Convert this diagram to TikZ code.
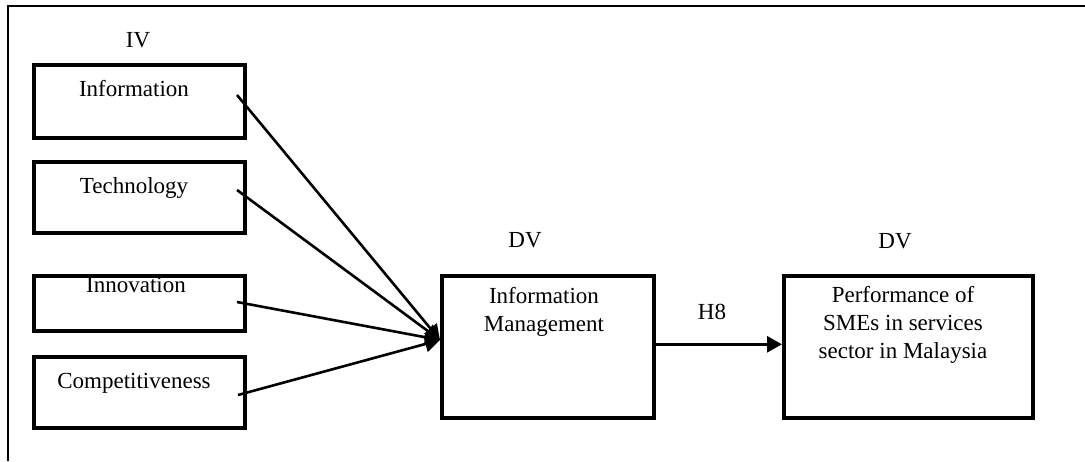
\documentclass[tikz,border=0pt]{standalone}
\usepackage{fontspec}
\setmainfont{Liberation Serif}
\usetikzlibrary{arrows.meta,calc}
\tikzset{
  box/.style={draw, line width=3.6pt, anchor=north west, inner sep=0pt},
  lbl/.style={anchor=base, inner sep=0pt, font=\fontsize{23}{27.7}\selectfont, align=center},
  conn/.style={line width=2.6pt, -{Triangle[length=15pt,width=16pt]}},
  frame/.style={line width=2.8pt}
}
\begin{document}
\begin{tikzpicture}[x=1pt,y=-1pt]
\useasboundingbox (0,0) rectangle (1085,461);
\draw[frame] (1085,6) -- (8,6) -- (8,461);
% boxes
\node[box, minimum width=211pt, minimum height=73pt] (info) at (32,63) {};
\node[box, minimum width=211pt, minimum height=71pt] (tech) at (32,160) {};
\node[box, minimum width=211pt, minimum height=55pt] (inno) at (32,274) {};
\node[box, minimum width=211pt, minimum height=71pt] (comp) at (32,355) {};
\node[box, minimum width=212pt, minimum height=142pt] (im) at (440,274) {};
\node[box, minimum width=249pt, minimum height=142pt] (perf) at (782,274) {};
% labels
\node[lbl] (iv) at (138,47) {IV};
\node[lbl] (infot) at (134,96) {Information};
\node[lbl] (techt) at (134,193) {Technology};
\node[lbl] (innot) at (136,292) {Innovation};
\node[lbl] (compt) at (134,388) {Competitiveness};
\node[lbl] (dv1) at (525,247) {DV};
\node[lbl] (dv2) at (895,248) {DV};
\node[lbl] (imt) at (544,331) {Information\\Management};
\node[lbl] (perft) at (903,358) {Performance of\\SMEs in services\\sector in Malaysia};
\node[lbl] (h8) at (712,319) {H8};
% connector start/end points
\coordinate (s1) at (237,95);
\coordinate (s2) at (237,190);
\coordinate (s3) at (237,302);
\coordinate (s4) at (238,395);
\coordinate (t) at (440,340);
\draw[conn] (s1) -- (t);
\draw[conn] (s2) -- (t);
\draw[conn] (s3) -- (t);
\draw[conn] (s4) -- (t);
\draw[conn] ([yshift=2.5pt]im.east) -- ([yshift=2.5pt]perf.west);
\end{tikzpicture}
\end{document}
